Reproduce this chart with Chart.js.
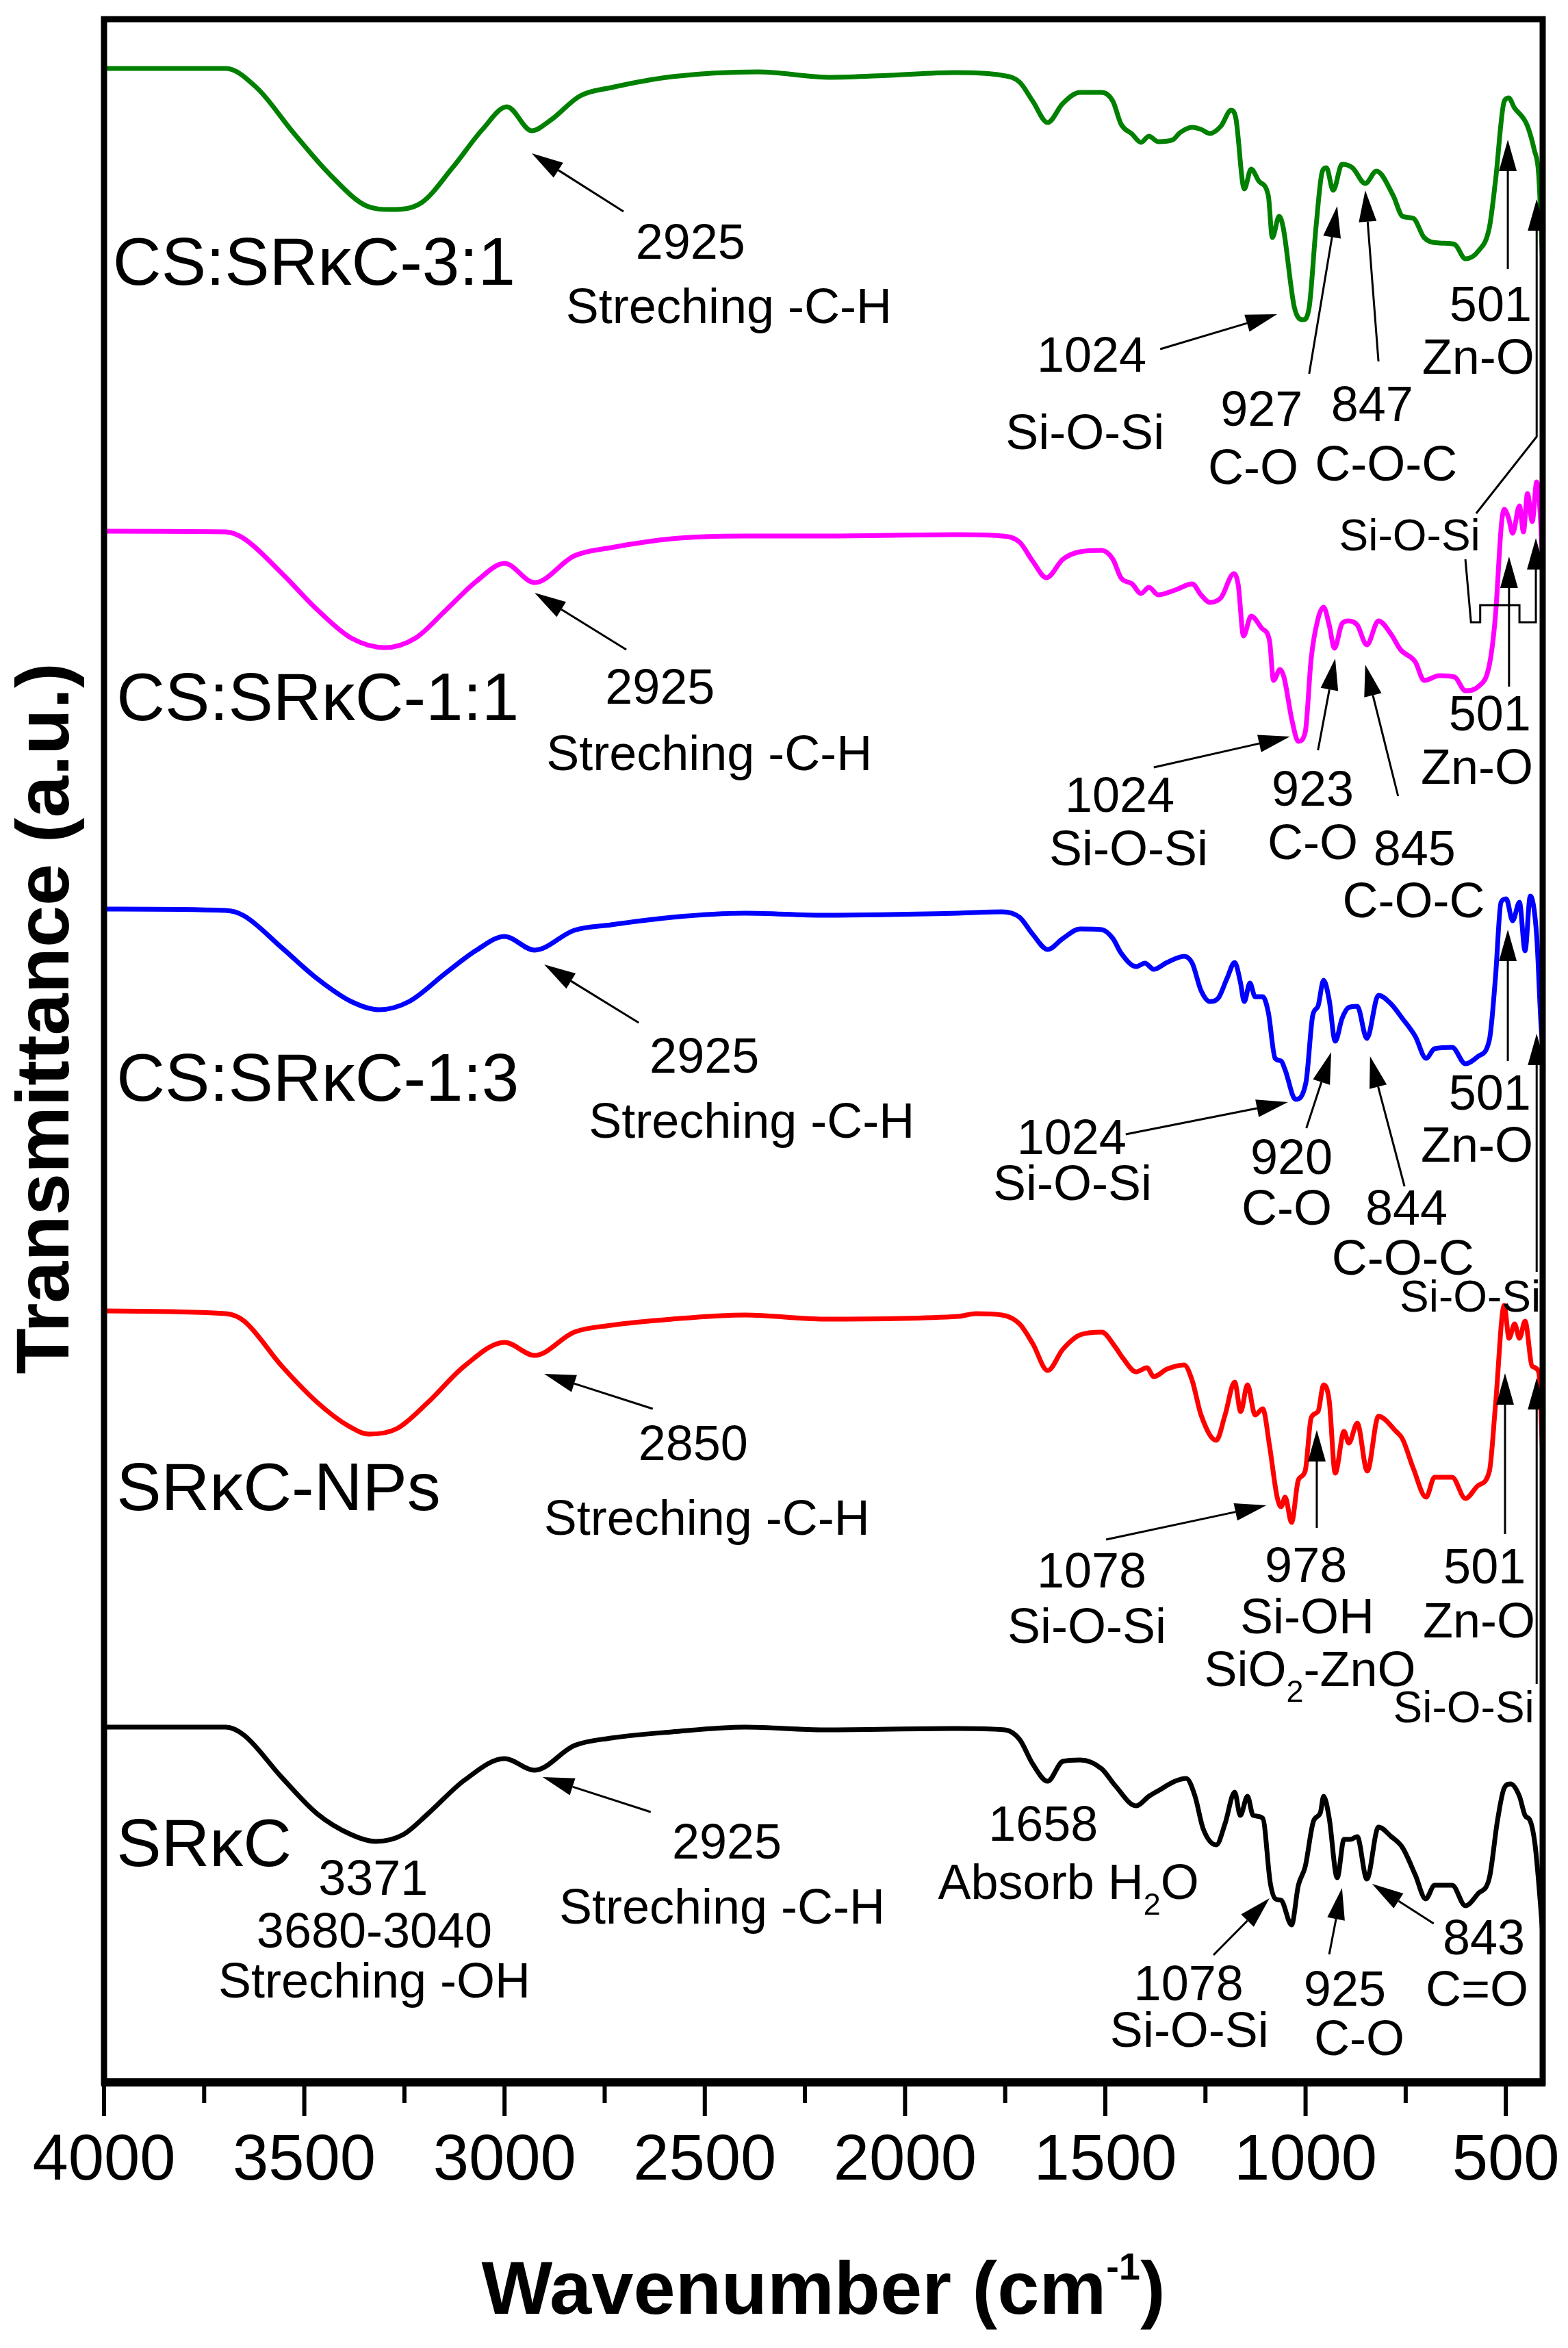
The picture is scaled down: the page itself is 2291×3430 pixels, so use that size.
<!DOCTYPE html>
<html>
<head>
<meta charset="utf-8">
<script src="https://cdn.jsdelivr.net/npm/chart.js@4.4.1/dist/chart.umd.min.js"></script>
<style>
  html, body { margin: 0; padding: 0; background: #fff; }
</style>
</head>
<body>
<canvas id="ftirChart" width="2291" height="3430"></canvas>
<script>
const FONT = "'Liberation Sans', Arial, sans-serif";

// Tick labels on the wavenumber axis
const xTicks = [4000, 3500, 3000, 2500, 2000, 1500, 1000, 500];

// Spectra (wavenumber in cm-1, transmittance in stacked arbitrary units)
const wnCS31 = [4000, 3696, 3619, 3527, 3436, 3344, 3284, 3207, 3130, 3055, 2994, 2932, 2886, 2811, 2734, 2582, 2368, 2185, 2038, 1876, 1758, 1714, 1681, 1644, 1606, 1563, 1509, 1481, 1461, 1433, 1411, 1391, 1368, 1331, 1314, 1283, 1261, 1239, 1211, 1186, 1174, 1153, 1136, 1116, 1093, 1083, 1066, 1056, 1028, 1006, 991, 974, 958, 948, 931, 909, 883, 851, 823, 781, 758, 731, 704, 666, 628, 601, 569, 541, 526, 504, 493, 478, 456, 446, 429, 418, 408];
const tCS31 = [294.2, 294.2, 291.4, 284.8, 278.7, 274.1, 273.6, 274.6, 279.7, 285.3, 288.6, 285.1, 286.6, 290.2, 291.4, 293.0, 293.7, 292.9, 293.2, 293.6, 293.2, 292.2, 289.4, 286.3, 289.1, 290.7, 290.7, 289.4, 286.1, 284.6, 283.4, 284.3, 283.5, 283.8, 284.8, 285.6, 285.3, 284.7, 285.8, 288.1, 286.9, 276.6, 279.5, 277.7, 275.6, 269.5, 272.6, 271.0, 259.3, 257.5, 259.3, 271.0, 279.2, 279.7, 276.4, 280.2, 279.7, 277.4, 279.2, 275.6, 272.6, 272.3, 269.5, 268.7, 268.5, 266.4, 267.5, 271.0, 277.7, 289.4, 289.9, 288.4, 286.9, 285.8, 282.3, 278.7, 265.4];

const wnCS11 = [4000, 3696, 3650, 3557, 3467, 3383, 3298, 3222, 3146, 3070, 3000, 2925, 2826, 2734, 2582, 2399, 2201, 1867, 1758, 1714, 1681, 1647, 1606, 1563, 1509, 1481, 1461, 1433, 1411, 1391, 1368, 1326, 1283, 1261, 1239, 1211, 1179, 1168, 1155, 1136, 1109, 1090, 1080, 1064, 1054, 1034, 1018, 1001, 986, 969, 955, 941, 928, 909, 893, 871, 847, 818, 786, 763, 726, 704, 666, 628, 601, 569, 541, 526, 511, 504, 493, 483, 466, 456, 446, 434, 423, 413, 408];
const tCS11 = [226.6, 226.5, 225.5, 220.5, 215.1, 211.0, 209.6, 211.0, 215.1, 219.3, 221.9, 219.1, 223.0, 224.2, 225.5, 225.9, 225.9, 226.1, 225.9, 225.0, 222.2, 219.8, 222.5, 223.6, 223.8, 222.5, 219.8, 218.9, 217.5, 218.4, 217.3, 218.0, 218.9, 217.3, 216.2, 216.9, 220.4, 218.7, 211.3, 214.2, 212.4, 210.6, 204.8, 206.4, 205.3, 199.0, 195.9, 197.2, 208.0, 213.8, 215.5, 212.9, 209.5, 213.1, 213.5, 212.9, 210.0, 213.5, 211.5, 209.3, 207.5, 204.8, 205.5, 205.3, 203.3, 203.9, 207.1, 214.2, 227.6, 229.8, 228.5, 226.3, 230.3, 226.5, 232.1, 228.0, 233.8, 228.0, 221.3];

const wnCS13 = [4000, 3696, 3650, 3557, 3467, 3383, 3313, 3238, 3146, 3070, 3000, 2925, 2826, 2734, 2582, 2399, 2201, 1867, 1758, 1714, 1681, 1644, 1606, 1563, 1509, 1481, 1461, 1423, 1401, 1379, 1346, 1303, 1283, 1261, 1239, 1218, 1196, 1177, 1163, 1153, 1139, 1126, 1107, 1093, 1076, 1061, 1051, 1025, 999, 982, 969, 955, 941, 926, 909, 893, 871, 847, 818, 786, 758, 726, 699, 678, 634, 601, 569, 541, 526, 512, 499, 483, 466, 452, 439, 423, 413, 408];
const tCS13 = [171.4, 171.2, 170.4, 165.8, 161.2, 157.9, 156.7, 157.9, 162.1, 165.4, 167.4, 165.4, 168.3, 169.1, 170.2, 170.8, 170.5, 170.8, 171.0, 170.2, 167.7, 165.5, 167.1, 168.5, 168.4, 167.1, 165.0, 163.0, 163.5, 162.6, 163.6, 164.5, 163.5, 159.5, 157.9, 158.4, 161.3, 163.6, 160.8, 157.9, 160.6, 158.6, 158.6, 156.3, 149.6, 149.2, 147.9, 143.6, 146.1, 155.9, 157.2, 161.0, 158.1, 152.1, 155.4, 157.0, 157.2, 152.5, 158.8, 157.5, 155.4, 152.8, 149.6, 151.0, 151.2, 148.8, 149.9, 152.3, 161.3, 172.4, 172.9, 169.7, 172.4, 165.3, 173.3, 167.5, 155.4, 151.0];

const wnNPs = [4000, 3696, 3650, 3557, 3467, 3390, 3337, 3269, 3192, 3099, 3000, 2925, 2826, 2734, 2582, 2399, 2201, 1867, 1823, 1758, 1714, 1681, 1644, 1606, 1563, 1509, 1476, 1456, 1423, 1396, 1379, 1346, 1303, 1283, 1261, 1223, 1201, 1177, 1162, 1145, 1126, 1107, 1090, 1071, 1061, 1051, 1035, 1018, 1001, 986, 969, 955, 941, 926, 904, 892, 871, 846, 818, 774, 758, 731, 699, 678, 634, 601, 569, 541, 526, 504, 492, 478, 466, 452, 434, 418, 408];
const tNPs = [112.7, 112.3, 111.2, 104.7, 99.3, 95.9, 94.7, 95.5, 99.3, 104.7, 108.1, 106.2, 109.6, 110.6, 111.5, 112.1, 111.5, 111.9, 112.3, 112.1, 110.8, 107.9, 104.0, 107.1, 109.2, 109.6, 107.5, 105.8, 103.8, 104.4, 103.1, 104.2, 104.8, 102.5, 97.5, 93.8, 97.5, 102.3, 98.0, 101.9, 97.5, 98.4, 93.0, 85.5, 84.1, 85.5, 81.8, 88.0, 89.3, 97.1, 98.0, 101.9, 99.6, 89.0, 95.1, 93.4, 96.3, 89.3, 97.3, 95.1, 94.0, 89.7, 85.5, 88.4, 88.4, 85.3, 87.2, 89.3, 98.8, 113.5, 108.7, 110.8, 108.7, 111.2, 104.6, 103.8, 91.3];

const wnSRkC = [4000, 3696, 3650, 3557, 3467, 3383, 3322, 3253, 3192, 3099, 3000, 2925, 2826, 2734, 2582, 2399, 2201, 1876, 1751, 1714, 1681, 1644, 1606, 1563, 1509, 1476, 1423, 1391, 1368, 1326, 1298, 1276, 1256, 1223, 1201, 1177, 1163, 1145, 1131, 1107, 1088, 1075, 1061, 1035, 1018, 1001, 980, 963, 955, 941, 921, 904, 888, 871, 847, 818, 786, 758, 726, 700, 678, 634, 601, 569, 541, 521, 504, 488, 466, 452, 439, 427, 413, 408];
const tSRkC = [51.9, 51.9, 50.7, 44.6, 39.2, 36.2, 35.2, 36.2, 39.2, 44.2, 47.3, 45.6, 49.2, 50.3, 51.2, 51.9, 51.5, 51.7, 51.5, 50.1, 46.5, 44.0, 46.9, 47.1, 45.8, 43.4, 40.4, 41.8, 42.6, 44.0, 44.4, 41.8, 37.1, 34.7, 37.8, 42.4, 39.0, 41.8, 39.0, 38.6, 29.1, 26.8, 26.6, 23.0, 28.8, 31.5, 38.2, 39.4, 41.8, 38.6, 29.9, 35.5, 35.5, 35.9, 29.7, 37.3, 35.9, 34.3, 30.3, 26.8, 28.8, 28.8, 25.8, 27.6, 29.9, 38.2, 43.0, 43.6, 41.8, 39.0, 38.2, 34.7, 25.6, 21.6];

const seriesConfigs = [
  { label: "CS:SRκC-3:1", wn: wnCS31, t: tCS31, color: "#008000" },
  { label: "CS:SRκC-1:1", wn: wnCS11, t: tCS11, color: "#ff00ff" },
  { label: "CS:SRκC-1:3", wn: wnCS13, t: tCS13, color: "#0000ff" },
  { label: "SRκC-NPs", wn: wnNPs, t: tNPs, color: "#ff0000" },
  { label: "SRκC", wn: wnSRkC, t: tSRkC, color: "#000000" },
];

// Sample names, written left aligned: [text, wavenumber, level]
const sampleNotes = [
  ["CS:SRκC-3:1", 3978, 262.6],
  ["CS:SRκC-1:1", 3969, 199.0],
  ["CS:SRκC-1:3", 3969, 143.4],
  ["SRκC-NPs", 3969, 83.6],
  ["SRκC", 3969, 31.6],
];

// Band labels, centred: [text, wavenumber, level, font size]
const bandNotes = [
  ["2925", 2536, 266.4], ["Streching -C-H", 2440, 257.0],
  ["1024", 1534, 249.9], ["Si-O-Si", 1551, 238.6],
  ["927", 1110, 242.0], ["C-O", 1131, 233.5],
  ["847", 834, 242.7], ["C-O-C", 799, 234.0],
  ["501", 538, 257.3], ["Zn-O", 569, 249.6],

  ["Si-O-Si", 740, 223.8, 64],
  ["2925", 2612, 201.4], ["Streching -C-H", 2489, 191.7],
  ["1024", 1464, 185.6], ["Si-O-Si", 1442, 177.8],
  ["923", 982, 186.5], ["C-O", 982, 178.7],
  ["845", 728, 177.8], ["C-O-C", 730, 170.2],
  ["501", 540, 197.5], ["Zn-O", 572, 189.7],

  ["2925", 2501, 147.5], ["Streching -C-H", 2383, 138.0],
  ["1024", 1584, 135.6], ["Si-O-Si", 1582, 128.9],
  ["920", 1035, 132.7], ["C-O", 1047, 125.3],
  ["844", 748, 125.3], ["C-O-C", 757, 118.0],
  ["501", 540, 142.1], ["Zn-O", 572, 134.5],
  ["Si-O-Si", 589, 112.6, 64],

  ["2850", 2529, 90.9], ["Streching -C-H", 2495, 80.0],
  ["1078", 1534, 72.3], ["Si-O-Si", 1546, 64.2],
  ["978", 999, 73.1], ["Si-OH", 996, 65.6], ["SiO_2-ZnO", 989, 57.9],
  ["501", 553, 72.9], ["Zn-O", 567, 65.0],
  ["Si-O-Si", 605, 52.6, 64],

  ["3371", 3328, 27.4], ["3680-3040", 3325, 19.7], ["Streching -OH", 3325, 12.4],
  ["2925", 2445, 32.7], ["Streching -C-H", 2457, 23.2],
  ["1658", 1655, 35.3], ["Absorb H_2O", 1592, 26.8],
  ["1078", 1292, 12.0], ["Si-O-Si", 1290, 5.2],
  ["925", 902, 11.2], ["C-O", 866, 4.0],
  ["843", 555, 18.7], ["C=O", 572, 11.2],
];

// Arrows as [wavenumber, level] paths, head on the last point
const arrowPaths = [
  [[2703, 273.3], [2932, 281.8]],
  [[1363, 253.2], [1071, 258.3]],
  [[991, 249.6], [921, 274.1]],
  [[818, 251.4], [851, 276.4]],
  [[495, 264.9], [495, 283.8]],
  [[574, 229.2], [423, 240.4], [423, 275.1]],

  [[2696, 209.3], [2925, 217.6]],
  [[1379, 192.1], [1039, 196.6]],
  [[969, 194.6], [926, 208.0]],
  [[769, 187.9], [851, 207.1]],
  [[492, 203.9], [492, 222.9]],
  [[601, 222.5], [587, 213.3], [564, 213.3], [564, 215.8], [466, 215.8], [466, 213.3], [425, 213.3], [425, 225.6]],

  [[2665, 154.8], [2901, 163.3]],
  [[1449, 138.5], [1044, 143.2]],
  [[998, 139.4], [936, 150.5]],
  [[753, 130.9], [839, 149.9]],
  [[495, 149.2], [495, 168.4]],
  [[423, 118.4], [423, 153.2]],

  [[2630, 98.4], [2901, 103.5]],
  [[1498, 79.3], [1098, 84.3]],
  [[972, 81.0], [972, 95.3]],
  [[502, 80.1], [502, 103.6]],
  [[423, 58.2], [423, 102.9]],

  [[2635, 39.5], [2905, 44.6]],
  [[1230, 18.6], [1090, 26.9]],
  [[941, 18.7], [909, 28.4]],
  [[680, 23.2], [834, 29.0]],
];

// Text with "_x" meaning x is a subscript
function drawRich(ctx, text, x, y, size, align) {
  const parts = [];
  for (let i = 0; i < text.length; i++) {
    if (text[i] === "_") {
      parts.push({ s: text[i + 1], sub: true });
      i++;
    } else if (parts.length && !parts[parts.length - 1].sub) {
      parts[parts.length - 1].s += text[i];
    } else {
      parts.push({ s: text[i], sub: false });
    }
  }
  const subSize = Math.round(size * 0.62);
  let width = 0;
  parts.forEach((p) => {
    ctx.font = `${p.sub ? subSize : size}px ${FONT}`;
    p.w = ctx.measureText(p.s).width;
    width += p.w;
  });
  let cx = align === "left" ? x : x - width / 2;
  ctx.textAlign = "left";
  ctx.textBaseline = "alphabetic";
  parts.forEach((p) => {
    ctx.font = `${p.sub ? subSize : size}px ${FONT}`;
    ctx.fillText(p.s, cx, p.sub ? y + size * 0.32 : y);
    cx += p.w;
  });
}

function drawArrow(ctx, pts) {
  const n = pts.length;
  const [hx, hy] = pts[n - 1];
  const [px, py] = pts[n - 2];
  const ang = Math.atan2(hy - py, hx - px);
  const headLen = 46, headHalf = 13;
  const bx = hx - headLen * Math.cos(ang);
  const by = hy - headLen * Math.sin(ang);
  ctx.beginPath();
  ctx.moveTo(pts[0][0], pts[0][1]);
  for (let i = 1; i < n - 1; i++) ctx.lineTo(pts[i][0], pts[i][1]);
  ctx.lineTo(bx, by);
  ctx.stroke();
  ctx.beginPath();
  ctx.moveTo(hx, hy);
  ctx.lineTo(bx + headHalf * Math.sin(ang), by - headHalf * Math.cos(ang));
  ctx.lineTo(bx - headHalf * Math.sin(ang), by + headHalf * Math.cos(ang));
  ctx.closePath();
  ctx.fill();
}

const framePlugin = {
  id: "frame",
  afterDraw(chart) {
    const { ctx, chartArea: a, scales } = chart;
    ctx.save();
    ctx.strokeStyle = "#000";
    ctx.fillStyle = "#000";

    // box
    ctx.lineWidth = 9;
    ctx.strokeRect(a.left, a.top, a.right - a.left, a.bottom - a.top);
    ctx.lineWidth = 12;
    ctx.beginPath();
    ctx.moveTo(a.left - 4, a.bottom);
    ctx.lineTo(a.right + 4, a.bottom);
    ctx.stroke();

    // outward ticks, minor every 250
    ctx.lineWidth = 6;
    for (let v = 500; v <= 4000; v += 250) {
      const px = scales.x.getPixelForValue(v);
      const len = v % 500 === 0 ? 49 : 30;
      ctx.beginPath();
      ctx.moveTo(px, a.bottom);
      ctx.lineTo(px, a.bottom + len);
      ctx.stroke();
    }

    // x title with superscript
    const mid = (a.left + a.right) / 2;
    const base = 3380;
    ctx.textBaseline = "alphabetic";
    ctx.textAlign = "left";
    const t1 = "Wavenumber (cm", t2 = "-1", t3 = ")";
    ctx.font = `bold 110px ${FONT}`;
    const w1 = ctx.measureText(t1).width, w3 = ctx.measureText(t3).width;
    ctx.font = `bold 56px ${FONT}`;
    const w2 = ctx.measureText(t2).width;
    let x0 = mid - (w1 + w2 + w3) / 2;
    ctx.font = `bold 110px ${FONT}`;
    ctx.fillText(t1, x0, base);
    ctx.font = `bold 56px ${FONT}`;
    ctx.fillText(t2, x0 + w1, base - 50);
    ctx.font = `bold 110px ${FONT}`;
    ctx.fillText(t3, x0 + w1 + w2, base);

    // y title
    ctx.save();
    ctx.translate(100, 1488);
    ctx.rotate(-Math.PI / 2);
    ctx.textAlign = "center";
    ctx.font = `bold 110px ${FONT}`;
    ctx.fillText("Transmittance (a.u.)", 0, 0);
    ctx.restore();

    // annotations
    const px = (wn) => scales.x.getPixelForValue(wn);
    const py = (lv) => scales.y.getPixelForValue(lv);
    sampleNotes.forEach(([txt, wn, lv]) => drawRich(ctx, txt, px(wn), py(lv), 98, "left"));
    bandNotes.forEach(([txt, wn, lv, size]) => drawRich(ctx, txt, px(wn), py(lv), size || 72, "center"));
    ctx.lineWidth = 3;
    ctx.lineJoin = "miter";
    arrowPaths.forEach((path) => drawArrow(ctx, path.map(([wn, lv]) => [px(wn), py(lv)])));
    ctx.restore();
  },
};

const ctx = document.getElementById("ftirChart").getContext("2d");
new Chart(ctx, {
  type: "line",
  data: {
    datasets: seriesConfigs.map((cfg) => ({
      label: cfg.label,
      data: cfg.wn.map((w, i) => ({ x: w, y: cfg.t[i] })),
      borderColor: cfg.color,
      borderWidth: 7,
      pointRadius: 0,
      cubicInterpolationMode: "monotone",
      borderJoinStyle: "round",
      fill: false,
    })),
  },
  options: {
    responsive: false,
    animation: false,
    devicePixelRatio: 1,
    layout: { padding: { top: 28, right: 37, left: 0, bottom: 0 } },
    plugins: { legend: { display: false }, tooltip: { enabled: false } },
    scales: {
      x: {
        type: "linear",
        reverse: true,
        min: 408,
        max: 4000,
        afterBuildTicks: (scale) => { scale.ticks = xTicks.map((v) => ({ value: v })); },
        afterFit: (scale) => {
          scale.height = 388;
          scale.paddingLeft = 0;
          scale.paddingRight = 0;
        },
        grid: { display: false, drawTicks: false },
        border: { display: false },
        ticks: {
          color: "#000",
          font: { family: FONT, size: 94 },
          padding: 60,
          maxRotation: 0,
          autoSkip: false,
          callback: (value) => String(value),
        },
      },
      y: {
        type: "linear",
        min: 0,
        max: 301.4,
        afterFit: (scale) => {
          scale.width = 152;
          scale.paddingTop = 0;
          scale.paddingBottom = 0;
        },
        grid: { display: false, drawTicks: false },
        border: { display: false },
        ticks: { display: false },
      },
    },
  },
  plugins: [framePlugin],
});
</script>
</body>
</html>
